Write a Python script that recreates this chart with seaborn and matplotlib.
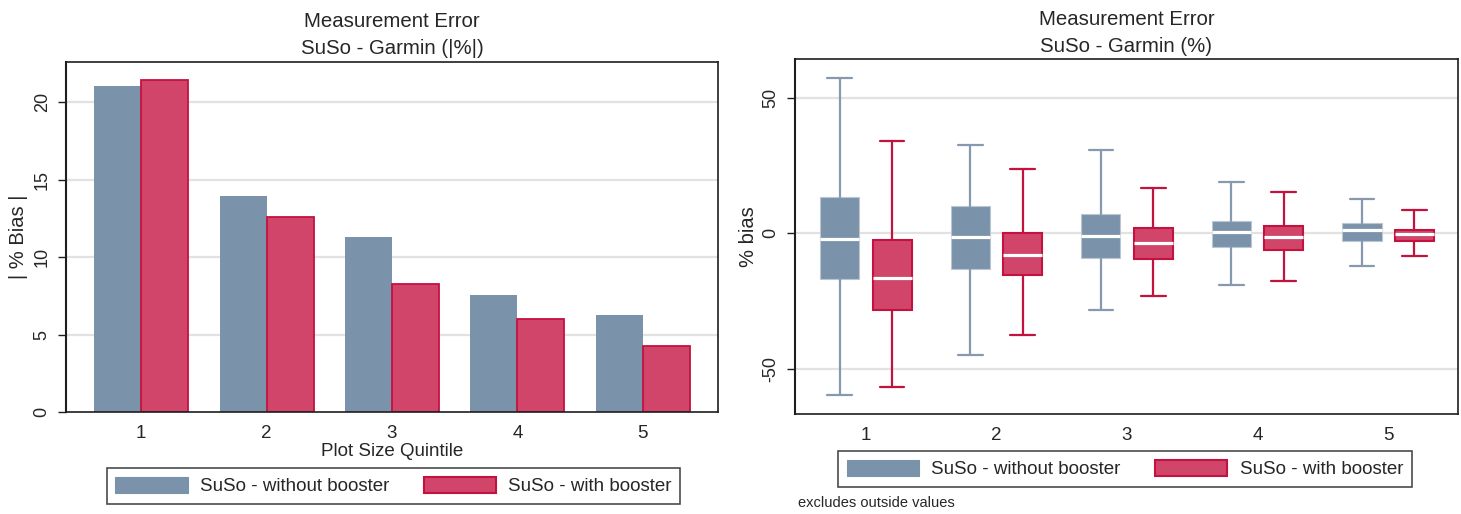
import numpy as np
import pandas as pd
import matplotlib
matplotlib.use("Agg")
import matplotlib.pyplot as plt
from matplotlib.patches import Patch
import seaborn as sns

# ---------------- data ----------------
quintiles = ["1", "2", "3", "4", "5"]
series_names = ["SuSo - without booster", "SuSo - with booster"]

# left panel: mean |% bias|
abs_bias_without = [21.05, 13.95, 11.33, 7.57, 6.28]
abs_bias_with = [21.4, 12.58, 8.26, 6.0, 4.28]

# right panel: box plot summaries of % bias (outside values excluded)
without_whishi = [57.3, 32.6, 30.7, 18.7, 12.5]
without_q3 = [13.2, 10.0, 7.0, 4.4, 3.6]
without_med = [-2.2, -1.6, -1.2, 0.25, 1.0]
without_q1 = [-16.9, -13.2, -9.1, -5.0, -2.8]
without_whislo = [-59.7, -45.1, -28.4, -19.2, -12.1]

with_whishi = [34.1, 23.6, 16.6, 15.1, 8.4]
with_q3 = [-2.7, -0.1, 2.0, 2.7, 1.2]
with_med = [-16.6, -8.2, -3.8, -1.5, -0.4]
with_q1 = [-28.3, -15.6, -9.5, -6.3, -3.1]
with_whislo = [-56.7, -37.6, -23.1, -17.8, -8.4]

left_yticks = [0, 5, 10, 15, 20]
right_yticks = [-50, 0, 50]

# ---------------- style ----------------
sns.set_style("white")
plt.rcParams["font.family"] = ["Liberation Sans", "DejaVu Sans"]

GREY = "#7b93aa"
GREY_EDGE = "#b9c6d3"
GREY_WHISK = "#8799ae"
RED = "#d1456a"
RED_EDGE = "#c4123f"
GRID = "#e2e2e2"
FRAME = "#1e1e1e"

W, H = 1461, 514
fig = plt.figure(figsize=(W / 100, H / 100), dpi=100)
fig.patch.set_facecolor("white")

def px_rect(x0, y0, x1, y1):
    return [x0 / W, 1 - y1 / H, (x1 - x0) / W, (y1 - y0) / H]

axL = fig.add_axes(px_rect(66, 61.7, 718, 412.3))
axR = fig.add_axes(px_rect(795, 59.3, 1458, 414.3))

def style_axes(ax):
    for s in ax.spines.values():
        s.set_visible(True)
        s.set_color(FRAME)
        s.set_linewidth(1.2)
    ax.spines["left"].set_linewidth(1.5)
    ax.set_facecolor("white")
    ax.grid(False)
    ax.tick_params(axis="y", direction="out", length=6, width=1.0, color=FRAME,
                   labelsize=13, pad=5, left=True, labelrotation=90)
    ax.tick_params(axis="x", length=0, labelsize=13.5, pad=9)
    for lab in ax.get_yticklabels():
        lab.set_va("center")

# ---------------- left: bar chart ----------------
df = pd.DataFrame({
    "quintile": quintiles * 2,
    "bias": abs_bias_without + abs_bias_with,
    "series": [series_names[0]] * 5 + [series_names[1]] * 5,
})
sns.barplot(data=df, x="quintile", y="bias", hue="series", order=quintiles,
            hue_order=series_names, palette=[GREY, RED], width=0.75,
            errorbar=None, saturation=1, legend=False, linewidth=0, ax=axL)
for bar in axL.containers[1]:
    bar.set_edgecolor(RED_EDGE)
    bar.set_linewidth(1.3)
for y in left_yticks[1:]:
    axL.axhline(y, color=GRID, lw=1.6, zorder=0)
axL.set_axisbelow(True)
axL.set_xlim(-0.6, 4.6)
axL.set_ylim(0, 22.6)
axL.set_yticks(left_yticks)
axL.set_yticklabels([str(v) for v in left_yticks])
axL.set_xlabel("Plot Size Quintile", fontsize=13.5, labelpad=1)
axL.set_ylabel("| % Bias |", fontsize=14.5)
style_axes(axL)
axL.yaxis.set_label_coords((18 - 66) / 652, 0.5)
axL.yaxis.label.set_va("center")

# ---------------- right: box plots ----------------
def stats(whislo, q1, med, q3, whishi):
    return [dict(whislo=a, q1=b, med=c, q3=d, whishi=e, fliers=[])
            for a, b, c, d, e in zip(whislo, q1, med, q3, whishi)]

pos = np.arange(len(quintiles))
common = dict(widths=0.3, capwidths=0.19, showfliers=False, patch_artist=True,
              medianprops=dict(color="white", lw=2.3, solid_capstyle="butt"))
axR.bxp(stats(without_whislo, without_q1, without_med, without_q3, without_whishi),
        positions=pos - 0.2,
        boxprops=dict(facecolor=GREY, edgecolor=GREY_EDGE, lw=0.8),
        whiskerprops=dict(color=GREY_WHISK, lw=1.6),
        capprops=dict(color=GREY_WHISK, lw=1.6), **common)
axR.bxp(stats(with_whislo, with_q1, with_med, with_q3, with_whishi),
        positions=pos + 0.2,
        boxprops=dict(facecolor=RED, edgecolor=RED_EDGE, lw=1.5),
        whiskerprops=dict(color=RED_EDGE, lw=1.6),
        capprops=dict(color=RED_EDGE, lw=1.6), **common)
for y in right_yticks:
    axR.axhline(y, color=GRID, lw=1.6, zorder=0)
axR.set_xlim(-0.544, 4.536)
axR.set_ylim(-66.9, 64.1)
axR.set_xticks(pos)
axR.set_xticklabels(quintiles)
axR.set_yticks(right_yticks)
axR.set_yticklabels([str(v) for v in right_yticks])
axR.set_ylabel("% bias", fontsize=14.5)
style_axes(axR)
axR.yaxis.set_label_coords((749 - 795) / 663, 0.5)
axR.yaxis.label.set_va("center")

# ---------------- titles ----------------
for cx, b1, b2, sub in [(392, 27, 53.5, "SuSo - Garmin (|%|)"),
                        (1126.5, 25, 51.5, "SuSo - Garmin (%)")]:
    fig.text(cx / W, 1 - b1 / H, "Measurement Error", ha="center", va="baseline", fontsize=14.7)
    fig.text(cx / W, 1 - b2 / H, sub, ha="center", va="baseline", fontsize=14.7)

# ---------------- legends ----------------
handles = [Patch(facecolor=GREY, edgecolor=GREY, lw=0.8),
           Patch(facecolor=RED, edgecolor=RED_EDGE, lw=1.5)]
for cx, cy in [(393.5, 486), (1125, 469)]:
    leg = fig.legend(handles, series_names, loc="center",
                     bbox_to_anchor=(cx / W, 1 - cy / H), ncol=2, frameon=True,
                     fancybox=False, edgecolor=FRAME, handlelength=3.85,
                     handleheight=1.0, handletextpad=0.65, columnspacing=1.85,
                     borderpad=0.45, fontsize=13.5)
    leg.get_frame().set_linewidth(1.2)

fig.text(798 / W, 1 - 507 / H, "excludes outside values", ha="left", va="baseline", fontsize=10.5)

fig.savefig("out.png", dpi=100, facecolor="white")
